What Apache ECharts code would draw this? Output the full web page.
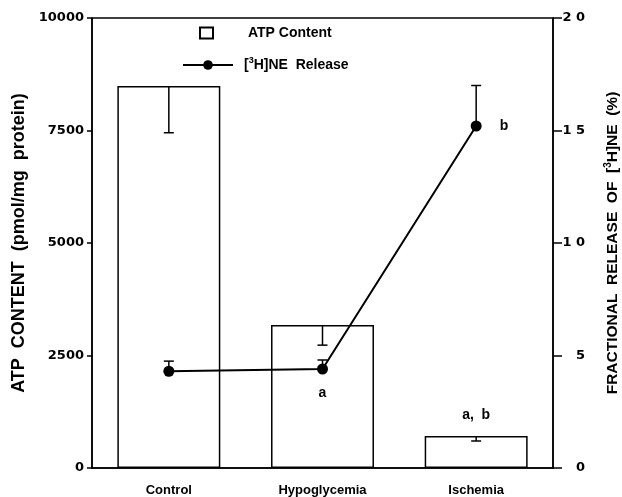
<!DOCTYPE html>
<html>
<head>
<meta charset="utf-8">
<script src="https://cdn.jsdelivr.net/npm/echarts@6/dist/echarts.min.js"></script>
<style>
html,body{margin:0;padding:0;background:#fff;overflow:hidden;width:622px;height:497px;}
#c{width:622px;height:497px;position:absolute;left:0;top:0;}
</style>
</head>
<body>
<div id="c"></div>
<script>
var categories = ['Control', 'Hypoglycemia', 'Ischemia'];
var atpMean = [8490, 3180, 710];
var atpErr = [1040, 450, 110];
var atpNotes = ['', '', 'a,  b'];
var neMean = [4.3, 4.4, 15.2];
var neErr = [0.45, 0.4, 1.8];
var neNotes = ['', 'a', 'b'];
var leftTicks = [0, 2500, 5000, 7500, 10000];
var rightTicks = [0, 5, 10, 15, 20];

var FONT = 'Liberation Sans';
var chart = echarts.init(document.getElementById('c'), null, { width: 622, height: 497 });

var barData = atpMean.map(function (v, i) {
  var d = { value: v };
  if (atpNotes[i]) d.label = { show: true, position: 'top', distance: 14, formatter: atpNotes[i] };
  return d;
});
var lineData = neMean.map(function (v, i) {
  var d = { value: v };
  if (neNotes[i] === 'a') d.label = { show: true, position: 'bottom', distance: 12, formatter: 'a' };
  if (neNotes[i] === 'b') d.label = { show: true, position: 'right', distance: 18, formatter: 'b' };
  return d;
});

function errRender() {
  return function (params, api) {
    var x = api.value(0), y0 = api.value(1), y1 = api.value(2);
    var p0 = api.coord([x, y0]);
    var p1 = api.coord([x, y1]);
    var cap = 5;
    return {
      type: 'group',
      children: [
        { type: 'line', shape: { x1: p0[0], y1: p0[1], x2: p1[0], y2: p1[1] }, style: { stroke: '#000', lineWidth: 1.5 } },
        { type: 'line', shape: { x1: p1[0] - cap, y1: p1[1], x2: p1[0] + cap, y2: p1[1] }, style: { stroke: '#000', lineWidth: 1.5 } }
      ]
    };
  };
}

var option = {
  animation: false,
  backgroundColor: '#fff',
  textStyle: { fontFamily: FONT, fontWeight: 'bold', color: '#000' },
  grid: { left: 92, right: 69, top: 18, bottom: 29, containLabel: false, outerBoundsMode: 'none',
    show: true, borderColor: '#000', borderWidth: 1.5, backgroundColor: 'transparent' },
  legend: [
    {
      data: ['ATP Content'], orient: 'vertical', left: 199, top: 26, padding: 0,
      itemWidth: 13, itemHeight: 11, icon: 'rect',
      textStyle: { fontFamily: FONT, fontWeight: 'bold', fontSize: 14, color: '#000', padding: [0, 0, 0, 30] }
    },
    {
      data: ['[3H]NE Release'], orient: 'vertical', left: 182, top: 56, padding: 0,
      itemWidth: 50, itemHeight: 12,
      formatter: function () { return '[{s|3}H]NE  Release'; },
      textStyle: { fontFamily: FONT, fontWeight: 'bold', fontSize: 14, color: '#000', padding: [0, 0, 0, 6],
        rich: { s: { fontSize: 9, fontWeight: 'bold', fontFamily: FONT, padding: [0, 0, 9, 0] } } }
    }
  ],
  xAxis: {
    type: 'category', data: categories,
    axisLine: { lineStyle: { color: '#000', width: 1.5 } },
    axisTick: { alignWithLabel: true, length: 6, lineStyle: { color: '#000', width: 1.5 } },
    axisLabel: { color: '#000', fontFamily: FONT, fontWeight: 'bold', fontSize: 13, margin: 16 }
  },
  yAxis: [
    {
      type: 'value', min: 0, max: 10000, interval: 2500, position: 'left',
      name: 'ATP  CONTENT  (pmol/mg  protein)', nameLocation: 'middle', nameGap: 57, nameRotate: 90,
      nameTextStyle: { color: '#000', fontFamily: FONT, fontWeight: 'bold', fontSize: 18 },
      axisLine: { show: true, lineStyle: { color: '#000', width: 1.5 } },
      axisTick: { show: true, length: 5, lineStyle: { color: '#000', width: 1.5 } },
      axisLabel: { color: '#000', fontFamily: 'DejaVu Sans', fontWeight: 'bold', fontSize: 13, margin: 8,
        formatter: function (v) { return leftTicks.indexOf(v) >= 0 ? String(v) : ''; } },
      splitLine: { show: false }
    },
    {
      type: 'value', min: 0, max: 20, interval: 5, position: 'right',
      name: 'FRACTIONAL  RELEASE  OF  [{s|3}H]NE  (%)', nameLocation: 'middle', nameGap: 50, nameRotate: 90,
      nameTextStyle: { color: '#000', fontFamily: FONT, fontWeight: 'bold', fontSize: 15.5,
        rich: { s: { fontSize: 10, fontWeight: 'bold', fontFamily: FONT, padding: [0, 0, 10, 0] } } },
      axisLine: { show: true, lineStyle: { color: '#000', width: 1.5 } },
      axisTick: { show: true, length: 9, lineStyle: { color: '#000', width: 1.5 } },
      axisLabel: { color: '#000', fontFamily: 'DejaVu Sans', fontWeight: 'bold', fontSize: 13, margin: 32, align: 'right',
        formatter: function (v) { return rightTicks.indexOf(v) >= 0 ? String(v).split('').join(' ') : ''; } },
      splitLine: { show: false }
    }
  ],
  series: [
    {
      name: 'ATP Content', type: 'bar', yAxisIndex: 0, barWidth: '67%', data: barData,
      itemStyle: { color: '#fff', borderColor: '#000', borderWidth: 1.5 },
      label: { color: '#000', fontFamily: FONT, fontWeight: 'bold', fontSize: 14 }
    },
    {
      name: 'ATP err', type: 'custom', yAxisIndex: 0, z: 3,
      renderItem: errRender(),
      data: atpMean.map(function (v, i) { return [i, v, v - atpErr[i]]; })
    },
    {
      name: 'NE err', type: 'custom', yAxisIndex: 1, z: 4,
      renderItem: errRender(),
      data: neMean.map(function (v, i) { return [i, v, v + neErr[i]]; })
    },
    {
      name: '[3H]NE Release', type: 'line', yAxisIndex: 1, z: 5, data: lineData,
      symbol: 'circle', symbolSize: 11,
      lineStyle: { color: '#000', width: 2 },
      itemStyle: { color: '#000' },
      label: { color: '#000', fontFamily: FONT, fontWeight: 'bold', fontSize: 14 }
    }
  ]
};
chart.setOption(option);
</script>
</body>
</html>
